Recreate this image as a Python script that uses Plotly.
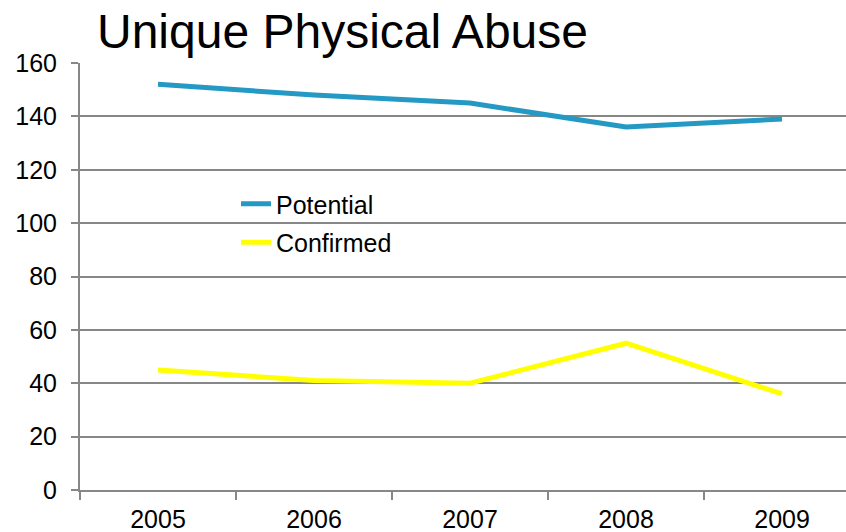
import plotly.graph_objects as go

years = ["2005", "2006", "2007", "2008", "2009"]
potential = [152, 148, 145, 136, 139]
confirmed = [45, 41, 40, 55, 36]

FONT = "Liberation Sans, Arial, sans-serif"
GRID = "#878787"

fig = go.Figure()
fig.add_trace(go.Scatter(x=years, y=potential, mode="lines", name="Potential",
                         legendgroup="a",
                         line=dict(color="#2399C3", width=5)))
fig.add_trace(go.Scatter(x=years, y=confirmed, mode="lines", name="Confirmed",
                         legendgroup="b",
                         line=dict(color="#FFFF00", width=5)))

fig.update_layout(
    width=846, height=532,
    margin=dict(l=80, r=0, t=63, b=42),
    paper_bgcolor="white", plot_bgcolor="white",
    font=dict(family=FONT, size=25, color="black"),
    title=dict(text="Unique Physical Abuse", x=97/846, xref="container", xanchor="left",
               y=1 - 31/532, yref="container", yanchor="middle",
               font=dict(family=FONT, size=48, color="black")),
    showlegend=True,
    legend=dict(x=(236-80)/766, y=(490-181)/427, xanchor="left", yanchor="top",
                bgcolor="rgba(0,0,0,0)", font=dict(size=25), tracegroupgap=3),
    xaxis=dict(type="category", range=[-0.5, 4.41], showgrid=False,
               showline=True, linecolor=GRID, linewidth=2,
               ticks="outside", tickson="boundaries", ticklen=8, tickwidth=1.5,
               tickcolor=GRID, ticklabelstandoff=6, fixedrange=True),
    yaxis=dict(range=[0, 160], dtick=20, tick0=0, showgrid=True, gridcolor=GRID,
               gridwidth=1.5, showline=True, linecolor=GRID, linewidth=2,
               ticks="outside", ticklen=7, tickwidth=1.5, tickcolor=GRID,
               ticklabelstandoff=9, zeroline=False, fixedrange=True),
)

fig.write_html("out.html")
